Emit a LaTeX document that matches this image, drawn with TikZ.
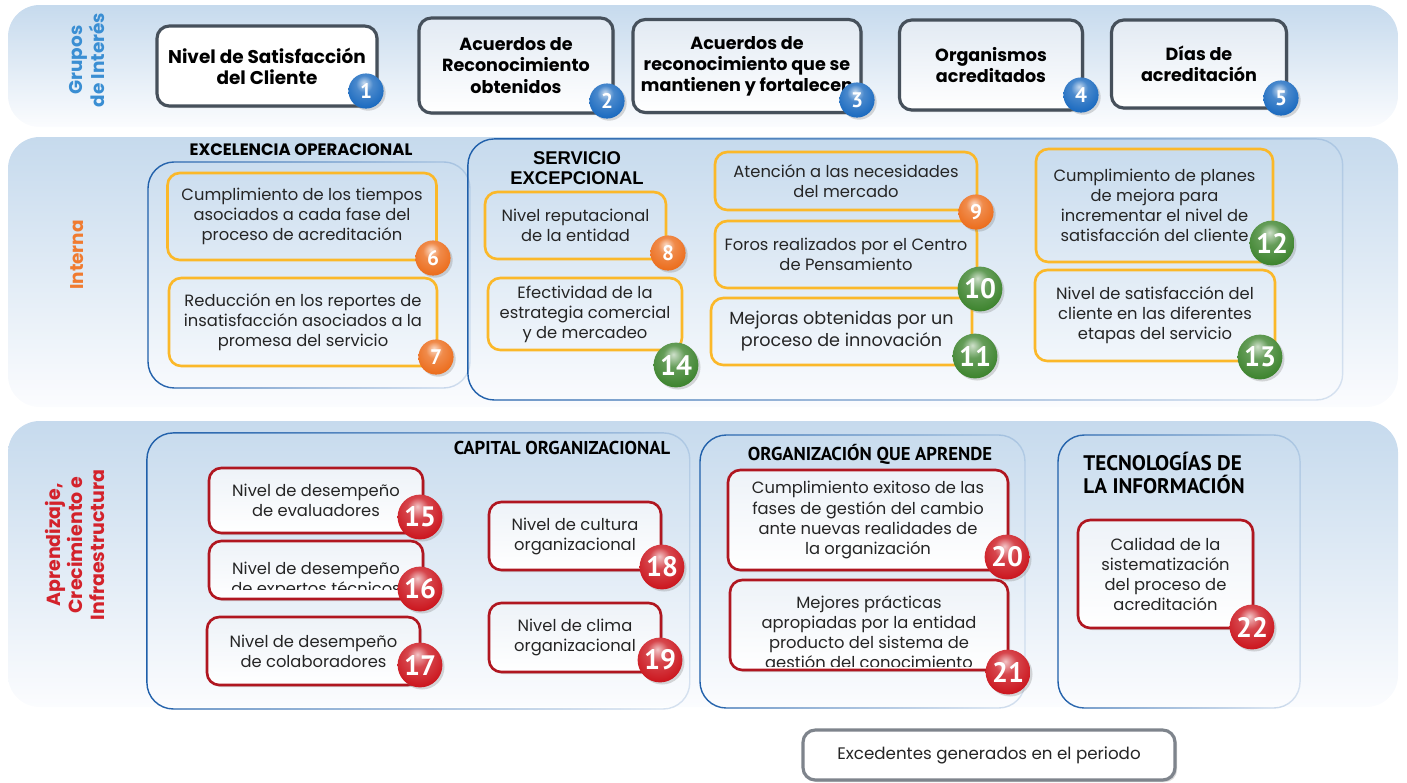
\documentclass[tikz,border=0pt]{standalone}
\usepackage{fontspec}
\setmainfont{Poppins}
\newfontfamily\condfont{PT Sans}
\newfontfamily\arialfont{Liberation Sans}
\usetikzlibrary{positioning,shadows,fadings}

\definecolor{bandtop}{HTML}{C6DAED}
\definecolor{bandbot}{HTML}{FBFCFE}
\definecolor{framblue}{HTML}{1F5FAA}
\definecolor{gold}{HTML}{FBB829}
\definecolor{darkred}{HTML}{B01620}
\definecolor{slate}{HTML}{46505B}
\definecolor{topfill}{HTML}{E2EAF3}
\definecolor{txt}{HTML}{252525}
\definecolor{gruposblue}{HTML}{3A8ED3}
\definecolor{internaorange}{HTML}{F07B30}
\definecolor{aprendred}{HTML}{D3222B}
\definecolor{blueball}{HTML}{1C6BC0}
\definecolor{orangeball}{HTML}{EC6E1E}
\definecolor{greenball}{HTML}{3F8530}
\definecolor{redball}{HTML}{CC1820}

% brillo de las bolitas numeradas
\colorlet{glosscol}{blue}
\pgfdeclareradialshading[glosscol]{gloss}{\pgfqpoint{-3bp}{12bp}}{color(0bp)=(glosscol!25!white); color(12bp)=(glosscol!80!white); color(30bp)=(glosscol); color(50bp)=(glosscol!75!black); color(66bp)=(glosscol!55!black)}
\tikzfading[name=fadeframe, left color=transparent!0, right color=transparent!85]

\tikzset{
  sz/.style n args={2}{minimum width=#1*0.569pt, minimum height=#2*0.569pt},
  band/.style={rounded corners=18pt, top color=bandtop, bottom color=bandbot},
  frame/.style={draw=framblue, line width=0.8pt, rounded corners=15pt, path fading=fadeframe},
  boxshadow/.style={drop shadow={opacity=0.3, shadow xshift=1.2pt, shadow yshift=-1.2pt}},
  topbox/.style={draw=slate, line width=1.8pt, rounded corners=7pt, top color=topfill, bottom color=white,
    boxshadow, font=\bfseries\fontsize{10}{12}\selectfont, align=center, text=black, inner sep=2pt},
  ybox/.style={draw=gold, line width=1.5pt, rounded corners=7pt, align=center, text=txt, inner sep=2pt,
    font=\fontsize{9.3}{11.4}\selectfont},
  rbox/.style={draw=darkred, line width=1.5pt, rounded corners=7pt, top color=topfill!60!white, bottom color=white,
    boxshadow, align=center, text=txt, inner sep=2pt, font=\fontsize{9.3}{11.4}\selectfont},
  plain/.style={align=center, text=txt, inner sep=0pt, font=\fontsize{9.3}{11.4}\selectfont},
  badge/.style={circle, /utils/exec={\colorlet{glosscol}{#1}}, shade, shading=gloss, text=white, inner sep=0pt, boxshadow},
  bsmall/.style={minimum size=20pt, font=\condfont\bfseries\fontsize{12}{12}\selectfont},
  bbig/.style={minimum size=25.5pt, font=\condfont\bfseries\fontsize{16}{16}\selectfont},
  side/.style={rotate=90, align=center, font=\bfseries\fontsize{10.5}{12}\selectfont},
  head/.style={align=center, text=black, font=\condfont\bfseries\fontsize{10.6}{12}\selectfont}
}

\begin{document}
\begin{tikzpicture}[x=0.569pt, y=-0.569pt]
\useasboundingbox (0,0) rectangle (1407,782);

% bandas
\shade[band] (8,5) rectangle (1398,127);
\shade[band] (8,137) rectangle (1398,407);
\shade[band] (8,421) rectangle (1398,707);

\node[side, text=gruposblue] (grupos) at (87,60) {Grupos\\de Interés};
\node[side, text=internaorange] (interna) at (77,255) {Interna};
\node[side, text=aprendred, font=\bfseries\fontsize{10.8}{12.5}\selectfont] (aprend) at (75,545) {Aprendizaje,\\Crecimiento e\\Infraestructura};

% grupos de interes
\node[topbox, sz={220}{80}, top color=white, font=\bfseries\fontsize{10.5}{12}\selectfont] (b1) at (267,66) {Nivel de Satisfacción\\del Cliente};
\node[topbox, sz={194}{95}] (b2) at (516,65.5) {Acuerdos de\\Reconocimiento\\obtenidos};
\node[topbox, sz={228}{93}] (b3) at (747,66) {Acuerdos de\\reconocimiento que se\\mantienen y fortalecen};
\node[topbox, sz={183}{90}] (b4) at (991,65) {Organismos\\acreditados};
\node[topbox, sz={175}{88}] (b5) at (1199,64) {Días de\\acreditación};

\node[badge=blueball, bsmall] (n1) at (366,91) {1};
\node[badge=blueball, bsmall] (n2) at (607,101) {2};
\node[badge=blueball, bsmall] (n3) at (857,100) {3};
\node[badge=blueball, bsmall] (n4) at (1081,95) {4};
\node[badge=blueball, bsmall] (n5) at (1281,98) {5};

% interna
\draw[frame] (148,162) rectangle (470,388);
\draw[frame] (468,139) rectangle (1343,400);
\node[text=black, font=\bfseries\fontsize{9.4}{10}\selectfont] (excel) at (301,150) {EXCELENCIA OPERACIONAL};
\node[text=black, align=center, font=\arialfont\bfseries\fontsize{10.5}{11}\selectfont] (servicio) at (577,168) {SERVICIO\\EXCEPCIONAL};

\node[ybox, sz={269}{87}] (b6) at (302,216.5) {Cumplimiento de los tiempos\\asociados a cada fase del\\proceso de acreditación};
\node[ybox, sz={268}{88}] (b7) at (303,322) {Reducción en los reportes de\\insatisfacción asociados a la\\promesa del servicio};
\node[ybox, sz={181}{67}] (b8) at (575.5,225.5) {Nivel reputacional\\de la entidad};
\node[ybox, sz={194}{72}] (b14) at (585,314) {Efectividad de la\\estrategia comercial\\y de mercadeo};
\node[ybox, sz={262}{58}] (b9) at (846,181) {Atención a las necesidades\\del mercado};
\node[ybox, sz={262}{67}] (b10) at (846,254.5) {Foros realizados por el Centro\\de Pensamiento};
\node[ybox, sz={261}{67}, font=\fontsize{10}{12.5}\selectfont] (b11) at (841.5,331.5) {Mejoras obtenidas por un\\proceso de innovación};
\node[ybox, sz={237}{113}] (b12) at (1154.5,205.5) {Cumplimiento de planes\\de mejora para\\incrementar el nivel de\\satisfacción del cliente};
\node[ybox, sz={240}{91}] (b13) at (1155,315.5) {Nivel de satisfacción del\\cliente en las diferentes\\etapas del servicio};

\node[badge=orangeball, bsmall] (n6) at (433,258) {6};
\node[badge=orangeball, bsmall] (n7) at (436,357) {7};
\node[badge=orangeball, bsmall] (n8) at (668,253) {8};
\node[badge=orangeball, bsmall] (n9) at (976,212) {9};
\node[badge=greenball, bbig] (n10) at (980,289) {10};
\node[badge=greenball, bbig] (n11) at (975,356) {11};
\node[badge=greenball, bbig] (n12) at (1272,243) {12};
\node[badge=greenball, bbig] (n13) at (1260,357) {13};
\node[badge=greenball, bbig] (n14) at (676,365) {14};

% aprendizaje
\draw[frame] (147,433) rectangle (690,709);
\draw[frame] (700,435) rectangle (1025,708);
\draw[frame] (1058,435) rectangle (1300,708);
\node[head] (capital) at (562,448) {CAPITAL ORGANIZACIONAL};
\node[head] (aprende) at (870,454) {ORGANIZACIÓN QUE APRENDE};
\node[head, align=left, font=\condfont\bfseries\fontsize{12}{13}\selectfont] (tecno) at (1164,473) {TECNOLOGÍAS DE\\LA INFORMACIÓN};

\node[rbox, sz={214}{65}] (b15) at (316,500.5) {Nivel de desempeño\\de evaluadores};
\node[rbox, sz={214}{58}] (b16) at (316,570) {};
\begin{scope}
  \clip (b16.north west) rectangle ([yshift=6pt]b16.south east);
  \node[plain] (t16) at (316,580) {Nivel de desempeño\\de expertos técnicos};
\end{scope}
\node[rbox, sz={213}{68}] (b17) at (313.5,651) {Nivel de desempeño\\de colaboradores};
\node[rbox, sz={172}{68}] (b18) at (575,536) {Nivel de cultura\\organizacional};
\node[rbox, sz={172}{69}] (b19) at (575,637.5) {Nivel de clima\\organizacional};
\node[rbox, sz={280}{100}] (b20) at (868,520) {Cumplimiento exitoso de las\\fases de gestión del cambio\\ante nuevas realidades de\\la organización};
\node[rbox, sz={278}{90}] (b21) at (869,625) {};
\begin{scope}
  \clip (b21.north west) rectangle ([yshift=3pt]b21.south east);
  \node[plain] (t21) at (869,634) {Mejores prácticas\\apropiadas por la entidad\\producto del sistema de\\gestión del conocimiento};
\end{scope}
\node[rbox, sz={175}{108}] (b22) at (1165.5,574) {Calidad de la\\sistematización\\del proceso de\\acreditación};

\node[badge=redball, bbig] (n15) at (420,517) {15};
\node[badge=redball, bbig] (n16) at (420,589) {16};
\node[badge=redball, bbig] (n17) at (420,665) {17};
\node[badge=redball, bbig] (n18) at (662,567) {18};
\node[badge=redball, bbig] (n19) at (660,660) {19};
\node[badge=redball, bbig] (n20) at (1007,557) {20};
\node[badge=redball, bbig] (n21) at (1008,672) {21};
\node[badge=redball, bbig] (n22) at (1252,627) {22};

\node[topbox, sz={372}{50}, top color=white, font=\fontsize{9.5}{12}\selectfont, text=txt, draw=slate!70] (exced) at (989,755) {Excedentes generados en el periodo};

\end{tikzpicture}
\end{document}
